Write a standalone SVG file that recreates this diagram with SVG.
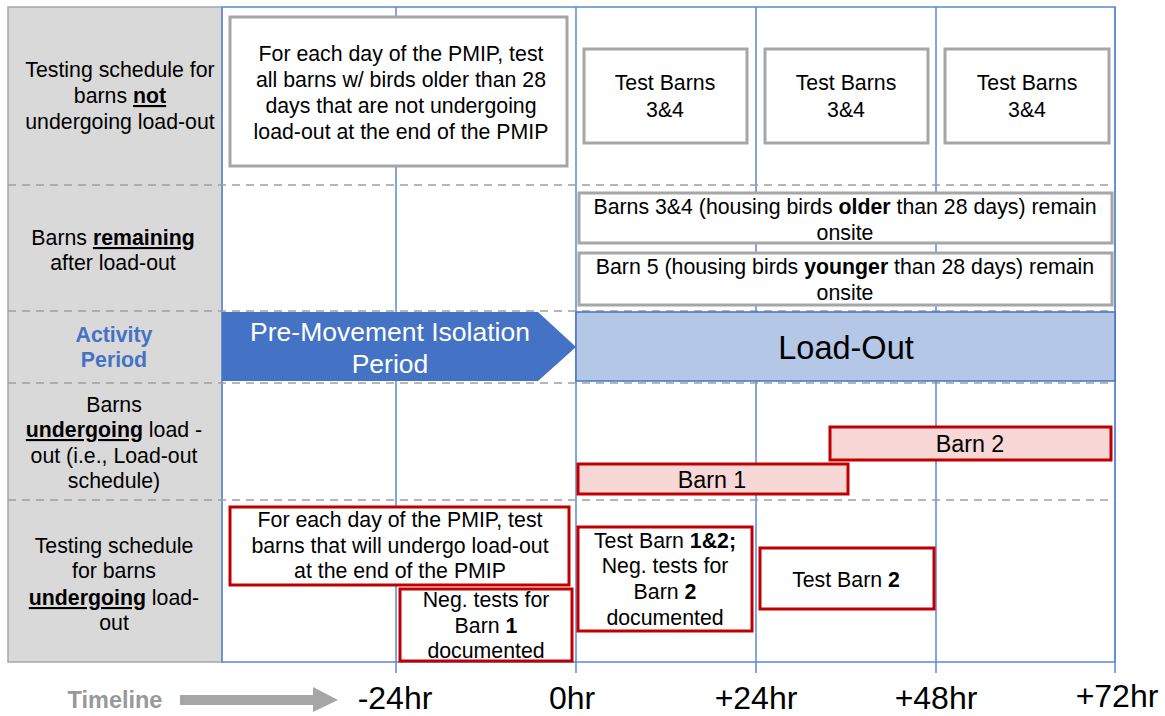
<svg xmlns="http://www.w3.org/2000/svg" width="1165" height="716" viewBox="0 0 1165 716">
<defs>
<style>
text{font-family:"Liberation Sans",Arial,sans-serif;fill:#000;text-anchor:middle}
.lbl{font-size:21.3px}
.box{font-size:21.3px}
.b{font-weight:bold}
.gbox{fill:#fff;stroke:#A6A6A6;stroke-width:3}
.rbox{fill:#fff;stroke:#C00000;stroke-width:3}
.rbar{fill:#F8D7D7;stroke:#C00000;stroke-width:3}
.grid{stroke:#5B87D6;stroke-width:1.5;fill:none}
.dash{stroke:#9E9E9E;stroke-width:1.5;stroke-dasharray:8,6;fill:none}
.tl{font-size:32px}
.bar{font-size:23.3px}
</style>
</defs>
<rect width="1165" height="716" fill="#fff"/>
<g id="left-column">
<rect x="8" y="7" width="214" height="655" fill="#D9D9D9" stroke="#A6A6A6" stroke-width="1.5"/>
</g>
<g id="grid">
<rect x="222" y="7" width="893" height="655" fill="#fff" class="grid"/>
<line x1="396" y1="7" x2="396" y2="673" class="grid"/>
<line x1="576" y1="7" x2="576" y2="673" class="grid"/>
<line x1="756" y1="7" x2="756" y2="673" class="grid"/>
<line x1="936" y1="7" x2="936" y2="673" class="grid"/>
<line x1="1115" y1="7" x2="1115" y2="673" class="grid"/>
<line x1="8" y1="185" x2="1115" y2="185" class="dash"/>
<line x1="8" y1="311" x2="1115" y2="311" class="dash"/>
<line x1="8" y1="383" x2="1115" y2="383" class="dash"/>
<line x1="8" y1="500" x2="1115" y2="500" class="dash"/>
</g>
<g id="row-labels">
<text class="lbl" x="120" y="77">Testing schedule for</text>
<text class="lbl" x="120" y="103">barns <tspan class="b" text-decoration="underline">not</tspan></text>
<text class="lbl" x="120" y="129">undergoing load-out</text>
<text class="lbl" x="113" y="245">Barns <tspan class="b" text-decoration="underline">remaining</tspan></text>
<text class="lbl" x="113" y="270">after load-out</text>
<text class="lbl b" x="114" y="342" style="fill:#4472C4">Activity</text>
<text class="lbl b" x="114" y="367" style="fill:#4472C4">Period</text>
<text class="lbl" x="114" y="412">Barns</text>
<text class="lbl" x="114" y="437"><tspan class="b" text-decoration="underline">undergoing</tspan> load -</text>
<text class="lbl" x="114" y="463">out (i.e., Load-out</text>
<text class="lbl" x="114" y="488">schedule)</text>
<text class="lbl" x="114" y="553">Testing schedule</text>
<text class="lbl" x="114" y="578">for barns</text>
<text class="lbl" x="114" y="605"><tspan class="b" text-decoration="underline">undergoing</tspan> load-</text>
<text class="lbl" x="114" y="630">out</text>
</g>
<g id="pmip-not-box">
<rect x="230" y="17" width="337" height="149" class="gbox"/>
<text class="box" x="401" y="61">For each day of the PMIP, test</text>
<text class="box" x="401" y="87">all barns w/ birds older than 28</text>
<text class="box" x="401" y="113">days that are not undergoing</text>
<text class="box" x="401" y="139">load-out at the end of the PMIP</text>
</g>
<g id="test34-a">
<rect x="584" y="49" width="163" height="94" class="gbox"/>
<text class="box" x="665" y="90">Test Barns</text>
<text class="box" x="665" y="117">3&amp;4</text>
</g>
<g id="test34-b">
<rect x="765" y="49" width="163" height="94" class="gbox"/>
<text class="box" x="846" y="90">Test Barns</text>
<text class="box" x="846" y="117">3&amp;4</text>
</g>
<g id="test34-c">
<rect x="945" y="49" width="164" height="94" class="gbox"/>
<text class="box" x="1027" y="90">Test Barns</text>
<text class="box" x="1027" y="117">3&amp;4</text>
</g>
<g id="remain34">
<rect x="579" y="193" width="533" height="50" class="gbox"/>
<text class="box" x="845" y="214">Barns 3&amp;4 (housing birds <tspan class="b">older</tspan> than 28 days) remain</text>
<text class="box" x="845" y="240">onsite</text>
</g>
<g id="remain5">
<rect x="579" y="253" width="533" height="52" class="gbox"/>
<text class="box" x="845" y="274">Barn 5 (housing birds <tspan class="b">younger</tspan> than 28 days) remain</text>
<text class="box" x="845" y="300">onsite</text>
</g>
<g id="pmip-arrow">
<polygon points="222,312 538,312 576,347 538,381 222,381" fill="#4472C4"/>
<text x="390" y="341" style="font-size:26.5px;fill:#fff">Pre-Movement Isolation</text>
<text x="390" y="373" style="font-size:26.5px;fill:#fff">Period</text>
</g>
<g id="loadout">
<rect x="576" y="312" width="539" height="69" fill="#B4C7E7" stroke="#4472C4" stroke-width="1.5"/>
<text x="846" y="359" style="font-size:32.5px">Load-Out</text>
</g>
<g id="barn2-bar">
<rect x="830" y="427" width="281" height="33" class="rbar"/>
<text class="bar" x="970" y="452">Barn 2</text>
</g>
<g id="barn1-bar">
<rect x="578" y="464" width="270" height="30" class="rbar"/>
<text class="bar" x="712" y="488">Barn 1</text>
</g>
<g id="pmip-undergo-box">
<rect x="230" y="507" width="339" height="78" class="rbox"/>
<text class="box" x="400" y="527">For each day of the PMIP, test</text>
<text class="box" x="400" y="553">barns that will undergo load-out</text>
<text class="box" x="400" y="578">at the end of the PMIP</text>
</g>
<g id="neg1-box">
<rect x="400" y="589" width="172" height="72" class="rbox"/>
<text class="box" x="486" y="607">Neg. tests for</text>
<text class="box" x="486" y="633">Barn <tspan class="b">1</tspan></text>
<text class="box" x="486" y="658">documented</text>
</g>
<g id="test12-box">
<rect x="578" y="527" width="174" height="104" class="rbox"/>
<text class="box" x="665" y="548">Test Barn <tspan class="b">1&amp;2;</tspan></text>
<text class="box" x="665" y="573">Neg. tests for</text>
<text class="box" x="665" y="599">Barn <tspan class="b">2</tspan></text>
<text class="box" x="665" y="625">documented</text>
</g>
<g id="test2-box">
<rect x="760" y="548" width="174" height="61" class="rbox"/>
<text class="box" x="846" y="587">Test Barn <tspan class="b">2</tspan></text>
</g>
<g id="connectors">
<polygon points="180,695 313,695 313,687 338,700 313,712 313,705 180,705" fill="#A6A6A6"/>
</g>
<g id="timeline">
<text x="115" y="708" class="b" style="font-size:23.5px;fill:#999">Timeline</text>
<text class="tl" x="395" y="709">-24hr</text>
<text class="tl" x="572" y="709">0hr</text>
<text class="tl" x="756" y="709">+24hr</text>
<text class="tl" x="936" y="709">+48hr</text>
<text class="tl" x="1117" y="707">+72hr</text>
</g>
</svg>
